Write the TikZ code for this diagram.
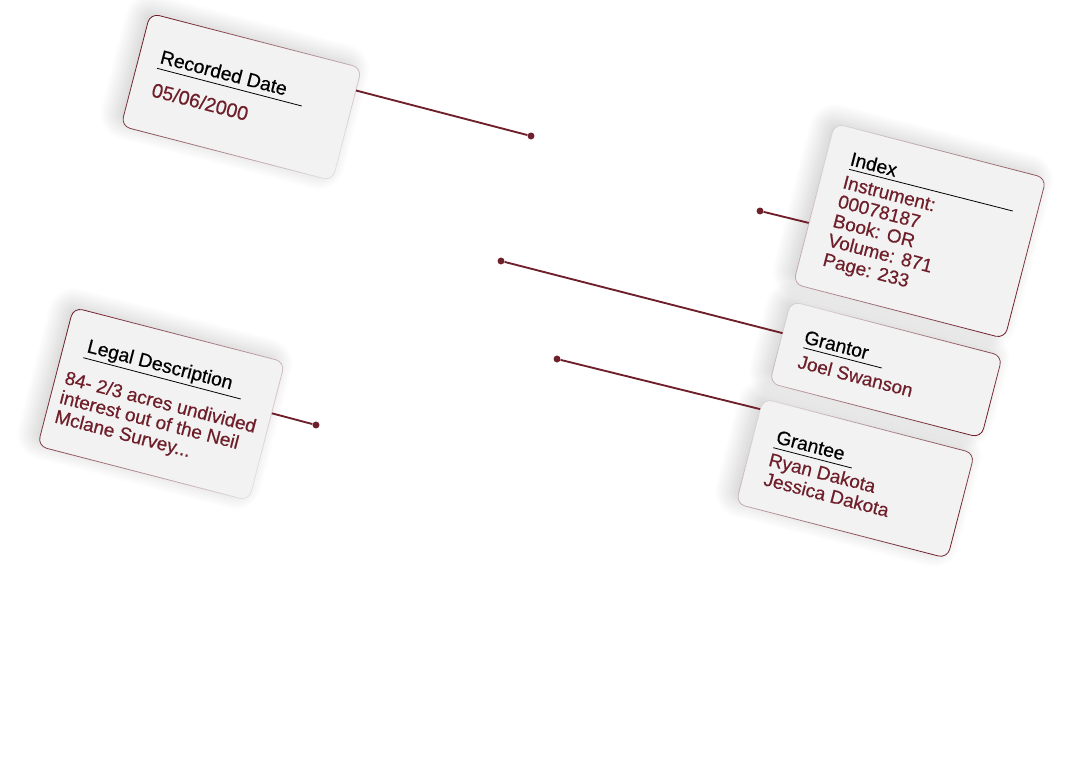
\documentclass[tikz,border=0pt]{standalone}
\usepackage{fontspec}
\setmainfont{Liberation Sans}
\usetikzlibrary{calc,fadings,shadows.blur}
\definecolor{wirered}{HTML}{6E1F2A}
\definecolor{cardgray}{HTML}{F2F2F2}
\tikzfading[name=edgefade,left color=transparent!0,right color=transparent!90]
\tikzset{
  card/.style={rectangle,rounded corners=7pt,fill=cardgray,
    rotate=-14.5,minimum width=163.5pt,
    blur shadow={shadow xshift=-5pt,shadow yshift=4pt,shadow blur radius=13pt,shadow opacity=20,shadow blur steps=32}},
  cardedge/.style={draw=wirered,line width=.6pt,rounded corners=7pt},
  cardtitle/.style={anchor=base west,inner sep=0,rotate=-14.5,font=\fontsize{14.5}{16}\selectfont\addfontfeature{FakeBold=.5}},
  cardvalue/.style={anchor=north west,inner sep=0,rotate=-14.5,align=left,text=wirered,font=\fontsize{14.2}{15}\selectfont\addfontfeature{FakeBold=.5}},
  dot/.style={circle,fill=wirered,inner sep=0,minimum size=5.2pt},
  wire/.style={draw=wirered,line width=1.4pt},
  titlerule/.style={draw=black,line width=.6pt}
}
\begin{document}
\begin{tikzpicture}[x=.75pt,y=-.75pt]
  \useasboundingbox (0,0) rectangle (1080,762);
  \node (date)[card,minimum height=87pt] at (241.5,97) {};
  \node (legal)[card,minimum height=107pt] at (161.5,404) {};
  \node (grantee)[card,minimum height=81pt] at (855,478.5) {};
  \node (grantor)[card,minimum height=63pt] at (886,369.5) {};
  \node (index)[card,minimum height=124pt] at (919.5,231) {};

  \foreach \card/\ang in {date/-30,legal/-30,index/140,grantor/140,grantee/140}
    \draw[cardedge,path fading=edgefade,fading angle=\ang] (\card.north west) -- (\card.north east) -- (\card.south east) -- (\card.south west) -- cycle;

  \node (dateTitle)[cardtitle] at (159,63) {Recorded Date};
  \node (dateValue)[cardvalue,font=\fontsize{14.8}{15}\selectfont\addfontfeature{FakeBold=.5}] at (154,82) {05/06/2000};
  \node (legalTitle)[cardtitle] at (86,352) {Legal Description};
  \node (legalValue)[cardvalue] at (67,370) {84- 2/3 acres undivided\\interest out of the Neil\\Mclane Survey...};
  \node (indexTitle)[cardtitle] at (849,165) {Index};
  \node (indexValue)[cardvalue] at (845,175) {Instrument:\\00078187\\Book: OR\\Volume: 871\\Page: 233};
  \node (grantorTitle)[cardtitle] at (803,343) {Grantor};
  \node (grantorValue)[cardvalue] at (800,354) {Joel Swanson};
  \node (granteeTitle)[cardtitle] at (775,443) {Grantee};
  \node (granteeValue)[cardvalue] at (771,452) {Ryan Dakota\\Jessica Dakota};

  \foreach \ax/\ay/\bx/\by in {157/68.3/301.7/106,83.3/357.7/240.7/399,849/169.3/1012.7/211,803.3/347.7/881.7/368,773.3/447.7/851.7/468}
    \draw[titlerule] (\ax,\ay) -- (\bx,\by);

  \node (dateDot)[dot] at (531,136) {};
  \node (legalDot)[dot] at (316,425) {};
  \node (indexDot)[dot] at (760,211) {};
  \node (grantorDot)[dot] at (501,261) {};
  \node (granteeDot)[dot] at (557,359) {};

  \coordinate (dateEnd) at ($(date.north east)!.2!(date.south east)$);
  \coordinate (legalEnd) at ($(legal.north east)!.37!(legal.south east)$);
  \coordinate (indexEnd) at ($(index.north west)!.62!(index.south west)$);
  \coordinate (grantorEnd) at ($(grantor.north west)!.39!(grantor.south west)$);
  \coordinate (granteeEnd) at ($(grantee.north west)!.1!(grantee.south west)$);

  \foreach \from/\to in {dateDot/dateEnd,legalDot/legalEnd,indexDot/indexEnd,grantorDot/grantorEnd,granteeDot/granteeEnd}
    \draw[wire] (\from) -- (\to);
\end{tikzpicture}
\end{document}
